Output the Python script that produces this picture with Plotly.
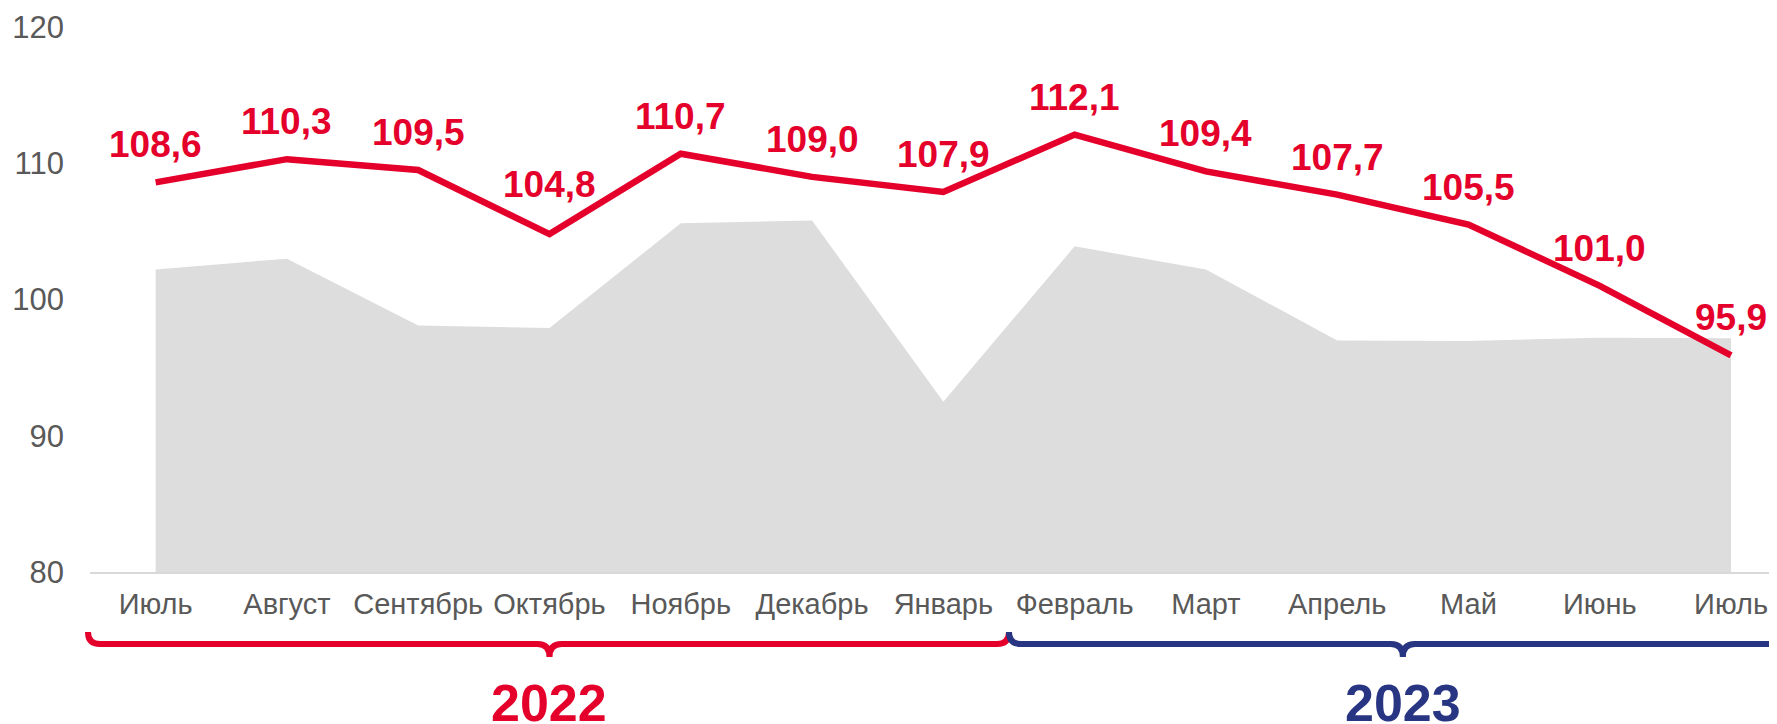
import plotly.graph_objects as go

# ---- data ----
months = ["Июль", "Август", "Сентябрь", "Октябрь", "Ноябрь", "Декабрь", "Январь",
          "Февраль", "Март", "Апрель", "Май", "Июнь", "Июль"]
index_values = [108.6, 110.3, 109.5, 104.8, 110.7, 109.0, 107.9,
                112.1, 109.4, 107.7, 105.5, 101.0, 95.9]
area_values = [102.2, 103.0, 98.1, 97.9, 105.6, 105.8, 92.5,
               103.9, 102.2, 97.0, 96.95, 97.2, 97.15]
y_ticks = [80, 90, 100, 110, 120]
years = ["2022", "2023"]
year_spans = [(-0.5, 6.5), (6.5, 12.5)]

# ---- layout constants (page body has an 8px margin) ----
BODY = 8
W, H = 1777 - BODY, 724 - BODY
ML, MR, MT, MB = 90 - BODY, 0, 27 - BODY, 152
XMIN, XMAX = -0.5, 12.35
YMIN, YMAX = 80, 120
PW, PH = W - ML - MR, H - MT - MB

RED = "#E4002B"
NAVY = "#283583"
GREY = "#DDDDDD"
TXT = "#595959"
FONT = "Liberation Sans, Arial, sans-serif"

x = list(range(len(months)))

fig = go.Figure()
fig.add_trace(go.Scatter(x=x, y=area_values, mode="lines", fill="tozeroy",
                         line=dict(width=0, color=GREY), fillcolor=GREY,
                         hoverinfo="skip"))
fig.add_trace(go.Scatter(x=x, y=index_values, mode="lines",
                         line=dict(width=6.5, color=RED)))

# data labels
label_lift = {3: 12}
for i, v in enumerate(index_values):
    fig.add_annotation(x=x[i], y=v, xref="x", yref="y",
                       text=f"{v:.1f}".replace(".", ","), showarrow=False,
                       yanchor="bottom", yshift=15 + label_lift.get(i, 0),
                       font=dict(family=FONT, size=37, color=RED, weight="bold"))


def xp(xd, dpx=0.0):
    return (xd - XMIN) / (XMAX - XMIN) + dpx / PW


def yp(py):
    # py: pixel row on the page (reference coordinates)
    return (MT + PH - (py - BODY)) / PH


def brace(x0, x1, xm, top=632, line=644, tip=657, r=12, left_dx=0):
    return (f"M {xp(x0, left_dx)},{yp(top)} "
            f"Q {xp(x0, left_dx)},{yp(line)} {xp(x0, left_dx + r)},{yp(line)} "
            f"L {xp(xm, -r)},{yp(line)} "
            f"Q {xp(xm)},{yp(line)} {xp(xm)},{yp(tip)} "
            f"Q {xp(xm)},{yp(line)} {xp(xm, r)},{yp(line)} "
            f"L {xp(x1, -r)},{yp(line)} "
            f"Q {xp(x1)},{yp(line)} {xp(x1)},{yp(top)}")


colors = [RED, NAVY]
for (a, b), col, yr in zip(year_spans, colors, years):
    mid = (a + b) / 2
    fig.add_shape(type="path", xref="paper", yref="paper",
                  path=brace(a, b, mid, left_dx=-2 if a < 0 else 0),
                  line=dict(color=col, width=6))
    fig.add_annotation(x=mid, y=yp(703), xref="x", yref="paper", text=yr,
                       showarrow=False, yanchor="middle",
                       font=dict(family=FONT, size=52, color=col, weight="bold"))

fig.update_xaxes(range=[XMIN, XMAX], tickmode="array", tickvals=x, ticktext=months,
                 tickfont=dict(family=FONT, size=29, color=TXT),
                 showline=True, linecolor="#D9D9D9", linewidth=2,
                 showgrid=False, zeroline=False, ticks="", ticklabelstandoff=5)
fig.update_yaxes(range=[YMIN, YMAX], tickmode="array", tickvals=y_ticks,
                 tickfont=dict(family=FONT, size=31, color=TXT),
                 showline=False, showgrid=False, zeroline=False, ticks="",
                 ticklabelstandoff=25)

fig.update_layout(width=W, height=H, margin=dict(l=ML, r=MR, t=MT, b=MB, pad=0),
                  paper_bgcolor="white", plot_bgcolor="white", showlegend=False)

fig.write_html("out.html")
